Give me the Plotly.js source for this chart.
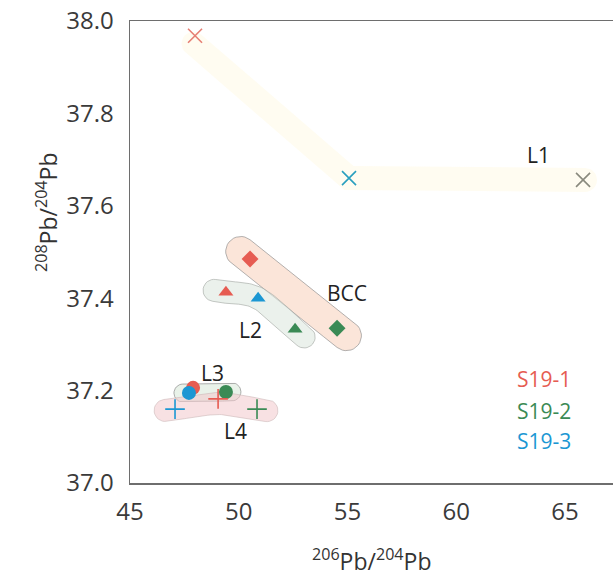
<!DOCTYPE html>
<html>
<head>
<meta charset="utf-8">
<script src="https://cdn.plot.ly/plotly-3.0.1.min.js"></script>
<style>
  html, body { margin: 0; padding: 0; background: #ffffff; }
  #chart { width: 613px; height: 577px; }
</style>
</head>
<body>
<div id="chart"></div>
<script>
// 206Pb/204Pb vs 208Pb/204Pb for leaching steps of samples S19-1, S19-2, S19-3
const samples = ['S19-1', 'S19-2', 'S19-3'];
const sampleColors = ['#e65c52', '#3a8a55', '#1b97d3'];

// L1 (crosses)
const l1X = [47.99, 55.07, 65.83];
const l1Y = [37.968, 37.660, 37.656];
const l1Colors = ['#e67f74', '#2a9fbf', '#8a8a7e'];

// BCC (diamonds): S19-1, S19-2
const bccX = [50.52, 54.52];
const bccY = [37.485, 37.335];
const bccColors = [sampleColors[0], sampleColors[1]];

// L2 (triangles): S19-1, S19-3, S19-2
const l2X = [49.41, 50.89, 52.59];
const l2Y = [37.413, 37.400, 37.333];
const l2Colors = [sampleColors[0], sampleColors[2], sampleColors[1]];

// L3 (circles): S19-1, S19-3, S19-2
const l3X = [47.90, 47.71, 49.41];
const l3Y = [37.206, 37.195, 37.197];
const l3Colors = [sampleColors[0], sampleColors[2], sampleColors[1]];

// L4 (plus signs): S19-3, S19-1, S19-2
const l4X = [47.07, 49.05, 50.84];
const l4Y = [37.160, 37.182, 37.160];
const l4Colors = [sampleColors[2], sampleColors[0], sampleColors[1]];

const xTicks = [45, 50, 55, 60, 65];
const yTicks = [37.0, 37.2, 37.4, 37.6, 37.8, 38.0];

// plot geometry
const W = 613, H = 577;
const M = { l: 130, r: 0, t: 21, b: 94 };
const plotW = W - M.l - M.r, plotH = H - M.t - M.b;
const xRange = [45, 45 + plotW / 21.75];
const yRange = [37.0, 38.0];
const kx = plotW / (xRange[1] - xRange[0]);
const ky = plotH / (yRange[1] - yRange[0]);

// Outline of a thick rounded stroke along a path through the given points.
// smooth = true: Catmull-Rom curve through the points; false: straight segments with mitred corners.
function band(xs, ys, r, ext, smooth) {
  const P = xs.map((x, i) => [x * kx, ys[i] * ky]);
  let pts = [];
  if (!smooth) {
    pts = P.map(p => p.slice());
  } else if (P.length === 2) {
    for (let t = 0; t <= 1.0001; t += 0.05) pts.push([P[0][0] + (P[1][0] - P[0][0]) * t, P[0][1] + (P[1][1] - P[0][1]) * t]);
  } else {
    for (let i = 0; i < P.length - 1; i++) {
      const p0 = P[Math.max(i - 1, 0)], p1 = P[i], p2 = P[i + 1], p3 = P[Math.min(i + 2, P.length - 1)];
      for (let s = 0; s < 20; s++) {
        const t = s / 20, t2 = t * t, t3 = t2 * t;
        const f = k => 0.5 * ((2 * p1[k]) + (-p0[k] + p2[k]) * t + (2 * p0[k] - 5 * p1[k] + 4 * p2[k] - p3[k]) * t2 + (-p0[k] + 3 * p1[k] - 3 * p2[k] + p3[k]) * t3);
        pts.push([f(0), f(1)]);
      }
    }
    pts.push(P[P.length - 1]);
  }
  const n = pts.length;
  const unit = (a, b) => { const dx = b[0] - a[0], dy = b[1] - a[1], l = Math.hypot(dx, dy); return [dx / l, dy / l]; };
  // extend ends slightly
  const e0 = unit(pts[1], pts[0]), e1 = unit(pts[n - 2], pts[n - 1]);
  pts[0] = [pts[0][0] + e0[0] * ext, pts[0][1] + e0[1] * ext];
  pts[n - 1] = [pts[n - 1][0] + e1[0] * ext, pts[n - 1][1] + e1[1] * ext];
  const left = [], right = [];
  for (let i = 0; i < n; i++) {
    let nx, ny, len = r;
    if (!smooth && i > 0 && i < n - 1) {
      const t1 = unit(pts[i - 1], pts[i]), t2 = unit(pts[i], pts[i + 1]);
      const n1 = [-t1[1], t1[0]], n2 = [-t2[1], t2[0]];
      let mx = n1[0] + n2[0], my = n1[1] + n2[1];
      const ml = Math.hypot(mx, my);
      mx /= ml; my /= ml;
      nx = mx; ny = my;
      len = r / (mx * n1[0] + my * n1[1]);
    } else {
      const t = unit(pts[Math.max(i - 1, 0)], pts[Math.min(i + 1, n - 1)]);
      nx = -t[1]; ny = t[0];
    }
    left.push([pts[i][0] + nx * len, pts[i][1] + ny * len]);
    right.push([pts[i][0] - nx * len, pts[i][1] - ny * len]);
  }
  const out = left.slice();
  const cap = (c, from, to) => {
    const a0 = Math.atan2(from[1] - c[1], from[0] - c[0]);
    const a1 = Math.atan2(to[1] - c[1], to[0] - c[0]);
    let da = a1 - a0;
    while (da > 0) da -= 2 * Math.PI;
    while (da < -2 * Math.PI) da += 2 * Math.PI;
    if (Math.abs(da) > Math.PI + 0.01) da += 2 * Math.PI;
    for (let s = 1; s < 16; s++) {
      const a = a0 + da * s / 16;
      out.push([c[0] + r * Math.cos(a), c[1] + r * Math.sin(a)]);
    }
  };
  cap(pts[n - 1], left[n - 1], right[n - 1]);
  for (let i = n - 1; i >= 0; i--) out.push(right[i]);
  cap(pts[0], right[0], left[0]);
  out.push(left[0]);
  return { x: out.map(p => p[0] / kx), y: out.map(p => p[1] / ky) };
}

function region(b, fill, line) {
  return {
    x: b.x, y: b.y, type: 'scatter', mode: 'lines', fill: 'toself',
    fillcolor: fill, line: { color: line || 'rgba(0,0,0,0)', width: line ? 1 : 0 },
    hoverinfo: 'skip', showlegend: false
  };
}

const traces = [
  region(band(l1X, [l1Y[0] - 0.02, l1Y[1], l1Y[2]], 12, 2, false), 'rgba(255,246,205,0.28)'),
  region(band(bccX, bccY, 15, 12, true), 'rgba(248,212,192,0.6)', 'rgba(140,140,140,0.65)'),
  region(band(l2X, l2Y, 11, 12, true), 'rgba(222,232,224,0.6)', 'rgba(160,165,160,0.6)'),
  region(band([l3X[1], l3X[2]], [l3Y[1], l3Y[2]], 9, 6, true), 'rgba(218,234,218,0.6)', 'rgba(140,140,140,0.7)'),
  region(band(l4X, [l4Y[0], l4Y[1] - 0.01, l4Y[2]], 11, 10, true), 'rgba(243,200,204,0.55)', 'rgba(205,185,185,0.6)'),
  {
    x: l1X, y: l1Y, type: 'scatter', mode: 'markers', showlegend: false,
    marker: { symbol: 'x-thin', size: 14, color: l1Colors, line: { color: l1Colors, width: 1.6 } }
  },
  {
    x: bccX, y: bccY, type: 'scatter', mode: 'markers', showlegend: false,
    marker: { symbol: 'diamond', size: 13, color: bccColors, line: { width: 0 } }
  },
  {
    x: l2X, y: l2Y, type: 'scatter', mode: 'markers', showlegend: false,
    marker: { symbol: 'triangle-up', size: 13, color: l2Colors, line: { width: 0 } }
  },
  {
    x: l3X, y: l3Y, type: 'scatter', mode: 'markers', showlegend: false,
    marker: { symbol: 'circle', size: 14, color: l3Colors, line: { width: 0 } }
  },
  {
    x: l4X, y: l4Y, type: 'scatter', mode: 'markers', showlegend: false,
    marker: { symbol: 'cross-thin', size: 14, color: l4Colors, line: { color: l4Colors, width: 1.6 } }
  }
];

const groupLabels = ['L1', 'BCC', 'L2', 'L3', 'L4'];
const groupLabelX = [63.76, 54.98, 50.52, 48.77, 49.87];
const groupLabelY = [37.71, 37.411, 37.331, 37.238, 37.113];

const annotations = groupLabels.map((t, i) => ({
  x: groupLabelX[i], y: groupLabelY[i], xref: 'x', yref: 'y', text: t, showarrow: false,
  font: { family: 'Open Sans, sans-serif', size: 21, color: '#222222' }
}));

const legendY = [37.225, 37.155, 37.092];
samples.forEach((s, i) => annotations.push({
  x: 65.35, y: legendY[i], xref: 'x', yref: 'y', text: s, showarrow: false, xanchor: 'right',
  font: { family: 'Open Sans, sans-serif', size: 21, color: sampleColors[i] }
}));

// axis titles placed in pixel terms relative to the plot area
annotations.push({
  x: 0.5, y: 1 - (560 - M.t) / plotH, xref: 'paper', yref: 'paper', yanchor: 'middle', showarrow: false,
  text: '<sup>206</sup>Pb/<sup>204</sup>Pb',
  font: { family: 'Open Sans, sans-serif', size: 23, color: '#333333' }
});
annotations.push({
  x: (28 - M.l) / plotW, y: 1 - (213 - M.t) / plotH, xref: 'paper', yref: 'paper',
  showarrow: false, textangle: -90,
  text: '<sup>208</sup>Pb/<sup>204</sup>Pb',
  font: { family: 'Open Sans, sans-serif', size: 23, color: '#333333' }
});

const layout = {
  width: W, height: H,
  margin: M,
  paper_bgcolor: '#ffffff', plot_bgcolor: '#ffffff',
  showlegend: false,
  xaxis: {
    range: xRange, tickvals: xTicks, ticktext: xTicks.map(String),
    showgrid: false, zeroline: false, showline: true, linecolor: '#6e6e6e', linewidth: 1.5,
    mirror: true, ticks: '', ticklabelstandoff: 7,
    tickfont: { family: 'Open Sans, sans-serif', size: 24, color: '#3a3a3a' }
  },
  yaxis: {
    range: yRange, tickvals: yTicks, ticktext: yTicks.map(v => v.toFixed(1)),
    showgrid: false, zeroline: false, showline: true, linecolor: '#6e6e6e', linewidth: 1.5,
    ticks: '', ticklabelstandoff: 10,
    tickfont: { family: 'Open Sans, sans-serif', size: 24, color: '#3a3a3a' }
  },
  annotations: annotations
};

Plotly.newPlot('chart', traces, layout, { displayModeBar: false, staticPlot: true });
</script>
</body>
</html>
